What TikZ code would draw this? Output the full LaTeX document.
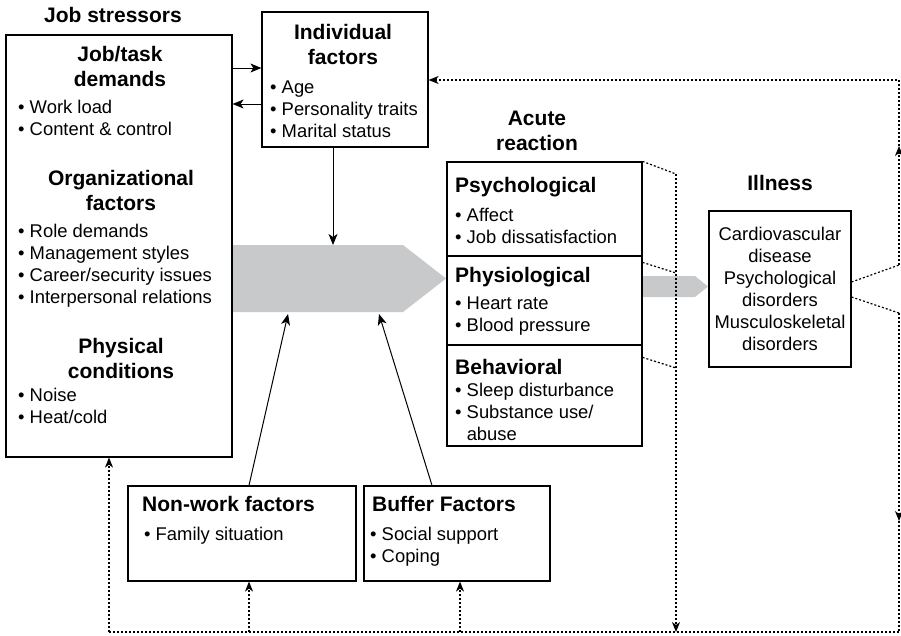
\documentclass[tikz,border=0pt]{standalone}
\usepackage{fontspec}
\setmainfont{Liberation Sans}
\usetikzlibrary{arrows.meta,calc}
\definecolor{arrowgrey}{RGB}{200,201,203}
\tikzset{
  flowarrow/.style={-{Stealth[length=11pt, width=9pt, inset=3pt]}, line width=1pt},
  loopline/.style={line width=1.2pt, dash pattern=on 2pt off 2pt},
  looparrow/.style={loopline, -{Stealth[length=10pt, width=8pt, inset=3pt]}},
  stressbox/.style={draw, line width=1.2pt, inner sep=0pt},
  greyarrow/.style={fill=arrowgrey, draw=none},
  headtext/.style={font=\fontsize{21}{25}\selectfont\bfseries, align=center, inner sep=0pt},
  listtext/.style={font=\fontsize{18.4}{22}\selectfont, align=left, anchor=north west, inner sep=0pt},
  headleft/.style={headtext, align=left, anchor=north west}
}

\begin{document}
\begin{tikzpicture}[x=1pt, y=-1pt]
  \useasboundingbox (0,0) rectangle (901,635);
  \fill[greyarrow] (232.5,245) -- (403,245) -- (446,278.5) -- (403,312) -- (232.5,312) -- cycle;
  \fill[greyarrow] (642.5,276) -- (695,276) -- (708,286.5) -- (695,297) -- (642.5,297) -- cycle;
  \coordinate (bigtop) at (333,245);
  \coordinate (bigbot1) at (288,314);
  \coordinate (bigbot2) at (379,314);

  \node[stressbox, minimum width=226pt, minimum height=422pt] (stress) at (119,246) {};
  \node[stressbox, minimum width=166pt, minimum height=135pt] (indiv) at (345,79.5) {};
  \node[stressbox, minimum width=195pt, minimum height=94pt] (psych) at (544.5,209) {};
  \node[stressbox, minimum width=195pt, minimum height=89pt] (physio) at (544.5,300.5) {};
  \node[stressbox, minimum width=195pt, minimum height=101pt] (behav) at (544.5,395.5) {};
  \node[stressbox, minimum width=142pt, minimum height=156pt] (illness) at (780,289) {};
  \node[stressbox, minimum width=228pt, minimum height=95pt] (nonwork) at (242,533.5) {};
  \node[stressbox, minimum width=186pt, minimum height=95pt] (buffer) at (457,533.5) {};

  \node[headtext] (stresstitle) at (113,15) {Job stressors};
  \node[headtext] (jobtaskhead) at (120,66) {Job/task\\demands};
  \node[listtext] (jobtasklist) at (18,100) {\textbullet\ Work load\\\textbullet\ Content \& control};
  \node[headtext] (orghead) at (121,190) {Organizational\\factors};
  \node[listtext] (orglist) at (18,224) {\textbullet\ Role demands\\\textbullet\ Management styles\\\textbullet\ Career/security issues\\\textbullet\ Interpersonal relations};
  \node[headtext] (physhead) at (121,358) {Physical\\conditions};
  \node[listtext] (physlist) at (18,388) {\textbullet\ Noise\\\textbullet\ Heat/cold};

  \node[headtext] (indivhead) at (343,44) {Individual\\factors};
  \node[listtext] (indivlist) at (270,81) {\textbullet\ Age\\\textbullet\ Personality traits\\\textbullet\ Marital status};

  \node[headtext] (acutetitle) at (537,131) {Acute\\reaction};
  \node[headleft] (psychhead) at (455,177) {Psychological};
  \node[listtext] (psychlist) at (455,208) {\textbullet\ Affect\\\textbullet\ Job dissatisfaction};
  \node[headleft] (physiohead) at (455,267) {Physiological};
  \node[listtext] (physiolist) at (455,297) {\textbullet\ Heart rate\\\textbullet\ Blood pressure};
  \node[headleft] (behavhead) at (455,359) {Behavioral};
  \node[listtext] (behavlist) at (455,383) {\textbullet\ Sleep disturbance\\\textbullet\ Substance use/\\\phantom{\textbullet\ }abuse};

  \node[headtext] (illnesstitle) at (780,183) {Illness};
  \node[listtext, anchor=center, align=center] (illnesslist) at (illness.center) {Cardiovascular\\disease\\Psychological\\disorders\\Musculoskeletal\\disorders};

  \node[headleft] (nonworkhead) at (142,496) {Non-work factors};
  \node[listtext] (nonworklist) at (144,527) {\textbullet\ Family situation};
  \node[headleft] (bufferhead) at (372,496) {Buffer Factors};
  \node[listtext] (bufferlist) at (370,527) {\textbullet\ Social support\\\textbullet\ Coping};

  \draw[flowarrow] ([yshift=11.5pt]indiv.west -| stress.east) -- ([yshift=11.5pt]indiv.west);
  \draw[flowarrow] ([yshift=-24.5pt]indiv.west) -- ([yshift=-24.5pt]indiv.west -| stress.east);
  \draw[flowarrow] (indiv.south -| bigtop) -- (bigtop);
  \draw[flowarrow] ([xshift=7pt]nonwork.north) -- (bigbot1);
  \draw[flowarrow] ([xshift=-25pt]buffer.north) -- (bigbot2);

  \coordinate (acj1) at (676,174);
  \coordinate (acj2) at (676,273);
  \coordinate (acj3) at (676,368);
  \coordinate (baseleft) at (109,632);
  \coordinate (baseright) at (899,632);
  \coordinate (rightup) at (899,265);
  \coordinate (rightmidup) at (899,146);
  \coordinate (rightcorner) at (899,80);
  \coordinate (rightdown) at (899,313);
  \coordinate (rightmiddown) at (899,521);

  \draw[loopline] (psych.north east) -- (acj1);
  \draw[loopline] ([yshift=-7pt]physio.north east) -- (acj2);
  \draw[loopline] ([yshift=-13pt]behav.north east) -- (acj3);
  \draw[looparrow] (acj1) -- (acj1 |- baseleft);
  \draw[loopline] (baseright) -- (baseleft);
  \draw[looparrow] (baseleft) -- (baseleft |- stress.south);
  \draw[looparrow] ([xshift=7pt]nonwork.south |- baseleft) -- ([xshift=7pt]nonwork.south);
  \draw[looparrow] ([xshift=3pt]buffer.south |- baseleft) -- ([xshift=3pt]buffer.south);
  \draw[loopline] ([yshift=7pt]illness.east) -- (rightup);
  \draw[looparrow] (rightup) -- (rightmidup);
  \draw[looparrow] (rightmidup) -- (rightcorner) -- (rightcorner -| indiv.east);
  \draw[loopline] ([yshift=-8pt]illness.east) -- (rightdown);
  \draw[looparrow] (rightdown) -- (rightmiddown);
  \draw[loopline] (rightmiddown) -- (baseright);
\end{tikzpicture}
\end{document}
